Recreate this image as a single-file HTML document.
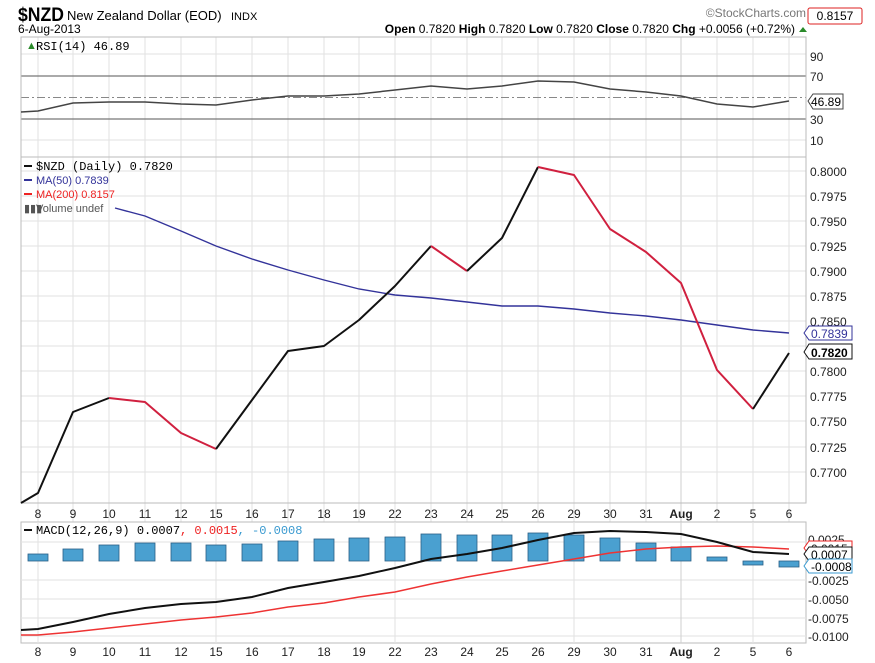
<!DOCTYPE html>
<html><head><meta charset="utf-8"><style>
body{margin:0;background:#fff;}
svg{display:block;font-family:"Liberation Sans",sans-serif;}
</style></head><body>
<svg width="875" height="663" viewBox="0 0 875 663" xmlns="http://www.w3.org/2000/svg">
<rect width="875" height="663" fill="#fff"/>
<!-- header -->
<text x="18" y="21" font-size="19" font-weight="bold" textLength="46" lengthAdjust="spacingAndGlyphs">$NZD</text>
<text x="67" y="20" font-size="13">New Zealand Dollar (EOD)</text>
<text x="231" y="20" font-size="11">INDX</text>
<text x="18" y="33" font-size="12">6-Aug-2013</text>
<text x="795" y="33" font-size="12" text-anchor="end"><tspan font-weight="bold">Open</tspan> 0.7820 <tspan font-weight="bold">High</tspan> 0.7820 <tspan font-weight="bold">Low</tspan> 0.7820 <tspan font-weight="bold">Close</tspan> 0.7820 <tspan font-weight="bold">Chg</tspan> +0.0056 (+0.72%)</text>
<polygon points="799,32 807,32 803,27" fill="#2a8a2a"/>
<text x="806" y="17" font-size="12" fill="#777" text-anchor="end">©StockCharts.com</text>
<rect x="808" y="8" width="54" height="16" fill="#fff" stroke="#d22" rx="2"/>
<text x="835" y="20" font-size="12" text-anchor="middle">0.8157</text>

<!-- grid verticals -->
<g stroke="#e2e2e2" stroke-width="1">
<line x1="38" y1="37" x2="38" y2="643"/><line x1="73" y1="37" x2="73" y2="643"/><line x1="109" y1="37" x2="109" y2="643"/><line x1="145" y1="37" x2="145" y2="643"/><line x1="181" y1="37" x2="181" y2="643"/><line x1="216" y1="37" x2="216" y2="643"/><line x1="252" y1="37" x2="252" y2="643"/><line x1="288" y1="37" x2="288" y2="643"/><line x1="324" y1="37" x2="324" y2="643"/><line x1="359" y1="37" x2="359" y2="643"/><line x1="395" y1="37" x2="395" y2="643"/><line x1="431" y1="37" x2="431" y2="643"/><line x1="467" y1="37" x2="467" y2="643"/><line x1="502" y1="37" x2="502" y2="643"/><line x1="538" y1="37" x2="538" y2="643"/><line x1="574" y1="37" x2="574" y2="643"/><line x1="610" y1="37" x2="610" y2="643"/><line x1="646" y1="37" x2="646" y2="643"/><line x1="717" y1="37" x2="717" y2="643"/><line x1="753" y1="37" x2="753" y2="643"/><line x1="789" y1="37" x2="789" y2="643"/>
</g>
<g stroke="#cfcfcf"><line x1="681" y1="37" x2="681" y2="643"/></g>

<!-- RSI panel -->
<g stroke="#e2e2e2"><line x1="21" y1="54" x2="806" y2="54"/><line x1="21" y1="140" x2="806" y2="140"/></g>
<line x1="21" y1="76" x2="806" y2="76" stroke="#777" stroke-width="1.2"/>
<line x1="21" y1="119" x2="806" y2="119" stroke="#777" stroke-width="1.2"/>
<line x1="21" y1="97.5" x2="806" y2="97.5" stroke="#888" stroke-dasharray="8,3,2,3"/>
<rect x="21" y="37" width="785" height="120" fill="none" stroke="#bbb"/>
<polyline fill="none" stroke="#444" stroke-width="1.5" points="21,112 38,111 73,103 109,102 145,102 181,104 216,105 252,100 288,96 324,96 359,94 395,90 431,86 467,89 502,86 538,81 574,82 610,89 646,92 681,96 717,104 753,107 789,101"/>
<text x="26" y="49" font-size="11" fill="#2a8a2a">▲</text>
<text x="36" y="50" font-size="12" font-family="Liberation Mono,monospace">RSI(14) 46.89</text>
<g font-size="12" fill="#222"><text x="810" y="61">90</text><text x="810" y="81">70</text><text x="810" y="124">30</text><text x="810" y="145">10</text></g>
<polygon points="808,101 813,94 843,94 843,109 813,109" fill="#fff" stroke="#444"/>
<text x="811" y="106" font-size="12">46.89</text>

<!-- Price panel -->
<g stroke="#e2e2e2">
<line x1="21" y1="171" x2="806" y2="171"/><line x1="21" y1="196" x2="806" y2="196"/><line x1="21" y1="221" x2="806" y2="221"/><line x1="21" y1="246" x2="806" y2="246"/><line x1="21" y1="271" x2="806" y2="271"/><line x1="21" y1="296" x2="806" y2="296"/><line x1="21" y1="321" x2="806" y2="321"/><line x1="21" y1="346" x2="806" y2="346"/><line x1="21" y1="371" x2="806" y2="371"/><line x1="21" y1="396" x2="806" y2="396"/><line x1="21" y1="421" x2="806" y2="421"/><line x1="21" y1="447" x2="806" y2="447"/><line x1="21" y1="472" x2="806" y2="472"/>
</g>
<rect x="21" y="157" width="785" height="346" fill="none" stroke="#bbb"/>
<polyline fill="none" stroke="#33339a" stroke-width="1.4" points="115,208 145,216 181,231 216,246 252,259 288,270 324,280 359,289 395,295 431,298 467,302 502,306 538,306 574,309 610,313 646,316 681,320 717,325 753,330 789,333"/>
<g fill="none" stroke-width="2" stroke-linejoin="round">
<polyline stroke="#111" points="21,503 38,493 73,412 109,398"/>
<polyline stroke="#d0203f" points="109,398 145,402 181,433 216,449"/>
<polyline stroke="#111" points="216,449 252,400 288,351 324,346 359,320 395,286 431,246"/>
<polyline stroke="#d0203f" points="431,246 467,271"/>
<polyline stroke="#111" points="467,271 502,238 538,167"/>
<polyline stroke="#d0203f" points="538,167 574,175 610,229 646,252 681,283 717,370 753,409"/>
<polyline stroke="#111" points="753,409 789,353"/>
</g>
<g font-size="12" fill="#222">
<text x="810" y="176">0.8000</text><text x="810" y="201">0.7975</text><text x="810" y="226">0.7950</text><text x="810" y="251">0.7925</text><text x="810" y="276">0.7900</text><text x="810" y="301">0.7875</text><text x="810" y="326">0.7850</text><text x="810" y="376">0.7800</text><text x="810" y="401">0.7775</text><text x="810" y="426">0.7750</text><text x="810" y="452">0.7725</text><text x="810" y="477">0.7700</text>
</g>
<polygon points="804,333 809,326 852,326 852,340 809,340" fill="#fff" stroke="#33339a"/>
<text x="811" y="338" font-size="12" fill="#33339a">0.7839</text>
<polygon points="804,352 809,344 852,344 852,359 809,359" fill="#fff" stroke="#111"/>
<text x="811" y="357" font-size="12" font-weight="bold">0.7820</text>
<g font-size="12" font-family="Liberation Mono,monospace">
<line x1="24" y1="166" x2="32" y2="166" stroke="#111" stroke-width="2"/><text x="36" y="170">$NZD (Daily) 0.7820</text>
<line x1="24" y1="180" x2="32" y2="180" stroke="#33339a" stroke-width="2"/><text x="36" y="184" fill="#33339a" font-family="Liberation Sans,sans-serif" font-size="11">MA(50) 0.7839</text>
<line x1="24" y1="194" x2="32" y2="194" stroke="#e22" stroke-width="2"/><text x="36" y="198" fill="#e22" font-family="Liberation Sans,sans-serif" font-size="11">MA(200) 0.8157</text>
<text x="24" y="212" fill="#555" font-family="Liberation Sans,sans-serif" font-size="11">▮▮▮</text>
<text x="36" y="212" fill="#555" font-family="Liberation Sans,sans-serif" font-size="11">Volume undef</text>
</g>

<!-- date labels -->
<g font-size="12" fill="#222" text-anchor="middle">
<text x="38" y="518">8</text><text x="73" y="518">9</text><text x="109" y="518">10</text><text x="145" y="518">11</text><text x="181" y="518">12</text><text x="216" y="518">15</text><text x="252" y="518">16</text><text x="288" y="518">17</text><text x="324" y="518">18</text><text x="359" y="518">19</text><text x="395" y="518">22</text><text x="431" y="518">23</text><text x="467" y="518">24</text><text x="502" y="518">25</text><text x="538" y="518">26</text><text x="574" y="518">29</text><text x="610" y="518">30</text><text x="646" y="518">31</text><text x="681" y="518" font-weight="bold">Aug</text><text x="717" y="518">2</text><text x="753" y="518">5</text><text x="789" y="518">6</text>
</g>
<g font-size="12" fill="#222" text-anchor="middle">
<text x="38" y="656">8</text><text x="73" y="656">9</text><text x="109" y="656">10</text><text x="145" y="656">11</text><text x="181" y="656">12</text><text x="216" y="656">15</text><text x="252" y="656">16</text><text x="288" y="656">17</text><text x="324" y="656">18</text><text x="359" y="656">19</text><text x="395" y="656">22</text><text x="431" y="656">23</text><text x="467" y="656">24</text><text x="502" y="656">25</text><text x="538" y="656">26</text><text x="574" y="656">29</text><text x="610" y="656">30</text><text x="646" y="656">31</text><text x="681" y="656" font-weight="bold">Aug</text><text x="717" y="656">2</text><text x="753" y="656">5</text><text x="789" y="656">6</text>
</g>

<!-- MACD panel -->
<rect x="21" y="522" width="785" height="121" fill="#fff" stroke="#bbb"/>
<g stroke="#e2e2e2">
<line x1="38" y1="522" x2="38" y2="643"/><line x1="216" y1="522" x2="216" y2="643"/><line x1="395" y1="522" x2="395" y2="643"/><line x1="574" y1="522" x2="574" y2="643"/><line x1="753" y1="522" x2="753" y2="643"/>
<line x1="21" y1="542" x2="806" y2="542"/><line x1="21" y1="580" x2="806" y2="580"/><line x1="21" y1="599" x2="806" y2="599"/><line x1="21" y1="618" x2="806" y2="618"/><line x1="21" y1="636" x2="806" y2="636"/>
</g>
<line x1="681" y1="522" x2="681" y2="643" stroke="#cfcfcf"/>
<g fill="#4aa0d0" stroke="#2a5f86" stroke-width="0.8">
<rect x="28" y="554" width="20" height="7"/><rect x="63" y="549" width="20" height="12"/><rect x="99" y="545" width="20" height="16"/><rect x="135" y="543" width="20" height="18"/><rect x="171" y="543" width="20" height="18"/><rect x="206" y="545" width="20" height="16"/><rect x="242" y="544" width="20" height="17"/><rect x="278" y="541" width="20" height="20"/><rect x="314" y="539" width="20" height="22"/><rect x="349" y="538" width="20" height="23"/><rect x="385" y="537" width="20" height="24"/><rect x="421" y="534" width="20" height="27"/><rect x="457" y="535" width="20" height="26"/><rect x="492" y="535" width="20" height="26"/><rect x="528" y="533" width="20" height="28"/><rect x="564" y="535" width="20" height="26"/><rect x="600" y="538" width="20" height="23"/><rect x="636" y="543" width="20" height="18"/><rect x="671" y="547" width="20" height="14"/><rect x="707" y="557" width="20" height="4"/><rect x="743" y="561" width="20" height="4"/><rect x="779" y="561" width="20" height="6"/>
</g>
<polyline fill="none" stroke="#ee3333" stroke-width="1.5" points="21,635 38,635 73,632 109,628 145,624 181,620 216,617 252,613 288,607 324,603 359,597 395,592 431,584 467,577 502,571 538,565 574,559 610,553 646,549 681,547 717,546 753,547 789,549"/>
<polyline fill="none" stroke="#111" stroke-width="2" points="21,630 38,629 73,622 109,614 145,608 181,604 216,602 252,597 288,588 324,582 359,576 395,568 431,559 467,554 502,548 538,540 574,533 610,531 646,532 681,534 717,542 753,552 789,554"/>
<line x1="24" y1="530" x2="32" y2="530" stroke="#111" stroke-width="2"/>
<text x="36" y="534" font-size="12" font-family="Liberation Mono,monospace">MACD(12,26,9) 0.0007<tspan fill="#e22">, 0.0015</tspan><tspan fill="#3a9ad0">, -0.0008</tspan></text>
<g font-size="12" fill="#222">
<text x="808" y="544">0.0025</text><text x="808" y="585">-0.0025</text><text x="808" y="604">-0.0050</text><text x="808" y="623">-0.0075</text><text x="808" y="641">-0.0100</text>
</g>
<polygon points="804,548 809,541 852,541 852,555 809,555" fill="#fff" stroke="#e22"/>
<text x="811" y="553" font-size="12" fill="#222">0.0015</text>
<polygon points="804,554 809,547 852,547 852,561 809,561" fill="#fff" stroke="#111"/>
<text x="811" y="559" font-size="12">0.0007</text>
<polygon points="804,566 809,559 852,559 852,573 809,573" fill="#fff" stroke="#3a9ad0"/>
<text x="811" y="571" font-size="12">-0.0008</text>
</svg>
</body></html>
